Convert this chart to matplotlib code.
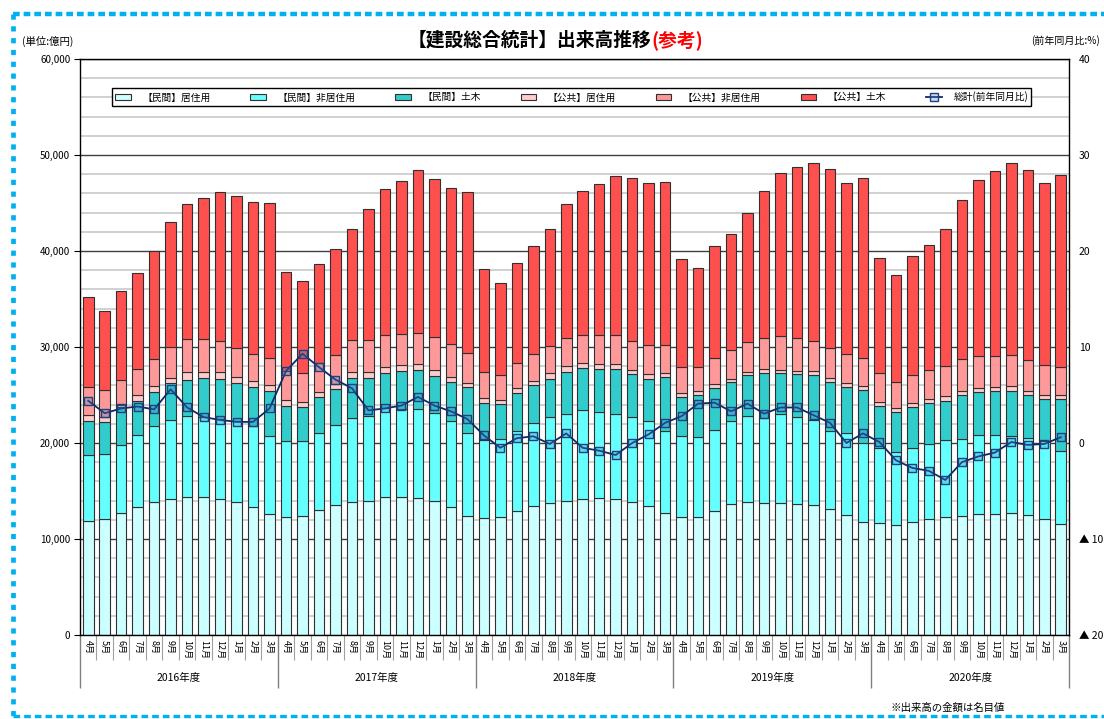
# 建設総合統計 出来高推移（参考） の再現
import matplotlib
matplotlib.use("Agg")
import matplotlib.pyplot as plt
import matplotlib.transforms as mtransforms
from matplotlib.lines import Line2D
import numpy as np

plt.rcParams["font.family"] = ["Noto Sans CJK JP", "DejaVu Sans"]

# 2016年4月〜2021年3月（月次、単位: 億円）
months = ["4月", "5月", "6月", "7月", "8月", "9月", "10月", "11月", "12月", "1月", "2月", "3月"] * 5
years = ["2016年度", "2017年度", "2018年度", "2019年度", "2020年度"]

min_kyoju = [11900, 12050, 12700, 13300, 13900, 14200, 14400, 14350, 14200, 13900, 13300, 12600,
             12300, 12400, 13000, 13500, 13900, 14000, 14350, 14400, 14300, 14000, 13300, 12400,
             12200, 12300, 12900, 13400, 13800, 14000, 14200, 14300, 14150, 13900, 13400, 12700,
             12300, 12300, 12950, 13600, 13900, 13750, 13800, 13600, 13500, 13100, 12500, 11800,
             11700, 11500, 11800, 12050, 12250, 12400, 12600, 12650, 12700, 12500, 12100, 11600]
min_hikyoju = [6900, 6850, 7100, 7500, 7900, 8200, 8450, 8350, 8300, 8400, 8500, 8100,
               7900, 7800, 8000, 8400, 8700, 8850, 9250, 9100, 9200, 9100, 9000, 8600,
               8100, 8100, 8300, 8650, 8900, 9000, 9200, 8900, 8850, 8850, 8900, 8600,
               8400, 8300, 8400, 8700, 8900, 8850, 9200, 9100, 8900, 8100, 8500, 8200,
               7800, 7600, 7700, 7850, 8050, 8050, 8200, 8150, 8050, 8000, 8100, 7600]
min_doboku = [3500, 3300, 3900, 3600, 3500, 3800, 3750, 4100, 4200, 3950, 4000, 4700,
              3700, 3500, 3800, 3700, 4200, 3950, 3700, 4000, 4100, 3900, 4100, 4800,
              3900, 3700, 4000, 3950, 4000, 4400, 4400, 4500, 4700, 4450, 4400, 5600,
              4100, 4400, 4350, 4100, 4250, 4700, 4300, 4450, 4650, 5200, 4800, 5500,
              4400, 4100, 4200, 4250, 4100, 4550, 4500, 4600, 4650, 4450, 4400, 5400]
ko_kyoju = [600, 500, 300, 600, 600, 600, 800, 600, 700, 650, 700, 600,
            600, 600, 500, 500, 600, 600, 600, 600, 600, 600, 500, 500,
            500, 400, 500, 500, 600, 600, 500, 500, 500, 400, 500, 400,
            400, 400, 400, 300, 350, 400, 300, 350, 450, 400, 400, 400,
            400, 400, 500, 450, 500, 400, 400, 400, 500, 450, 400, 400]
ko_hikyoju = [2900, 2800, 2600, 2700, 2900, 3200, 3400, 3400, 3200, 3000, 2800, 2900,
              3000, 3000, 3000, 3100, 3300, 3300, 3350, 3300, 3300, 3400, 3400, 3100,
              2700, 2600, 2600, 2800, 2800, 2900, 2950, 3050, 3000, 3000, 3000, 2900,
              2750, 2550, 2800, 3000, 3100, 3200, 3500, 3400, 3100, 3100, 3100, 3000,
              3000, 2800, 2900, 3000, 3100, 3300, 3400, 3300, 3300, 3200, 3100, 2900]
ko_doboku = [9400, 8200, 9200, 10000, 11200, 13050, 14100, 14750, 15550, 15800, 15800, 16100,
             10300, 9600, 10300, 11000, 11600, 13700, 15250, 15900, 16900, 16500, 16300, 16700,
             10700, 9600, 10500, 11200, 12150, 14000, 15050, 15750, 16600, 17000, 16850, 16950,
             11250, 10250, 11600, 12100, 13500, 15400, 17000, 17850, 18600, 18600, 17800, 18700,
             12000, 11100, 12350, 13000, 14300, 16650, 18250, 19200, 20000, 19800, 18950, 20000]
# 総計（前年同月比, %）
yoy = [4.4, 3.1, 3.6, 3.8, 3.5, 5.6, 3.7, 2.7, 2.4, 2.2, 2.2, 3.6,
       7.5, 9.3, 7.9, 6.6, 5.7, 3.4, 3.6, 3.9, 4.8, 3.9, 3.3, 2.5,
       0.8, -0.5, 0.5, 0.7, -0.1, 1.0, -0.5, -0.8, -1.25, 0.0, 0.9, 2.1,
       2.8, 4.1, 4.2, 3.3, 4.1, 3.05, 3.7, 3.7, 2.9, 2.1, 0.0, 1.0,
       0.1, -1.8, -2.6, -2.9, -3.85, -2.0, -1.4, -1.0, 0.1, -0.2, -0.1, 0.6]

series = [min_kyoju, min_hikyoju, min_doboku, ko_kyoju, ko_hikyoju, ko_doboku]
names = ["【民間】居住用", "【民間】非居住用", "【民間】土木", "【公共】居住用", "【公共】非居住用", "【公共】土木"]
colors = ["#CCFFFF", "#66FFFF", "#33CCCC", "#FFCCCC", "#FF9999", "#FF5050"]

fig = plt.figure(figsize=(11.04, 7.19), dpi=100)
ax = fig.add_axes([80 / 1104, 84 / 719, 989 / 1104, 576 / 719])

x = np.arange(len(months))
bottom = np.zeros(len(months))
handles = []
for vals, col, name in zip(series, colors, names):
    b = ax.bar(x, vals, 0.64, bottom=bottom, color=col, edgecolor="#303030",
               linewidth=0.8, label=name, zorder=2)
    handles.append(b)
    bottom += np.array(vals)

ax.set_xlim(-0.5, len(months) - 0.5)
ax.set_ylim(0, 60000)
ax.set_yticks(np.arange(0, 60001, 10000))
ax.set_yticklabels([f"{v:,}" for v in range(0, 60001, 10000)])
ax.set_yticks(np.arange(0, 60001, 2000), minor=True)
ax.grid(axis="y", which="major", color="#404040", lw=1.0)
ax.grid(axis="y", which="minor", color="#C8C8C8", lw=1.2)
ax.set_axisbelow(True)
ax.tick_params(axis="y", which="minor", length=0)
ax.tick_params(axis="y", which="major", length=4, labelsize=7, pad=3)

# x軸: 月の区切り（短）と年度の区切り（長）
ax.set_xticks(np.arange(-0.5, len(months), 12))
ax.set_xticks(np.arange(-0.5, len(months), 1), minor=True)
ax.tick_params(axis="x", which="major", length=38, color="#808080", width=1, labelbottom=False)
ax.tick_params(axis="x", which="minor", length=18, color="#A0A0A0", width=0.8, labelbottom=False)

trans = mtransforms.blended_transform_factory(ax.transData, ax.transAxes)
for i, m in enumerate(months):
    ax.text(i, -0.008, m, transform=trans, rotation=270, ha="center", va="top", fontsize=6.5)
for k, yl in enumerate(years):
    ax.text(12 * k + 5.5, -0.075, yl, transform=trans, ha="center", va="center", fontsize=7.5)

for s in ax.spines.values():
    s.set_color("black")
    s.set_linewidth(1.0)

# 右軸: 前年同月比
ax2 = ax.twinx()
ax2.set_ylim(-20, 40)
ticks2 = np.arange(-20, 41, 10)
ax2.set_yticks(ticks2)
ax2.set_yticklabels([f"▲ {abs(t)}" if t < 0 else f"{t}" for t in ticks2])
ax2.tick_params(axis="y", length=0, labelsize=7.5, pad=7)
for s in ax2.spines.values():
    s.set_visible(False)
ln, = ax2.plot(x, yoy, color="#0F2A6B", lw=1.3, marker="s", markersize=6,
               markerfacecolor=(0.25, 0.55, 0.75, 0.3), markeredgecolor="#1F3F80",
               markeredgewidth=1.0, label="総計(前年同月比)", zorder=5)
handles.append(ln)

leg = ax2.legend(handles, names + ["総計(前年同月比)"], ncol=7, loc="center",
                 bbox_to_anchor=(0.032, 0.918, 0.93, 0.032), mode="expand",
                 frameon=True, fancybox=False, edgecolor="black", framealpha=1,
                 fontsize=7, handlelength=1.6, handleheight=0.6, borderaxespad=0,
                 borderpad=0.35, handletextpad=1.2)
leg.get_frame().set_linewidth(1.0)

# 見出し
fig.text(651 / 1104, 1 - 40 / 719, "【建設総合統計】出来高推移", ha="right", va="center",
         fontsize=13.5, fontweight="bold", color="black")
fig.text(651 / 1104, 1 - 40 / 719, "(参考)", ha="left", va="center",
         fontsize=13.5, fontweight="bold", color="#FF0000")
fig.text(22 / 1104, 1 - 41 / 719, "(単位:億円)", ha="left", va="center", fontsize=7.5)
fig.text(1100 / 1104, 1 - 41 / 719, "(前年同月比:%)", ha="right", va="center", fontsize=7.2)
fig.text(890 / 1104, 1 - 708 / 719, "※出来高の金額は名目値", ha="left", va="center", fontsize=7.5)

# 外枠（水色の破線）
bx0, by0, by1 = 13 / 1104, 1 - 716 / 719, 1 - 14 / 719
fig.add_artist(Line2D([bx0, 1.01], [by1, by1], transform=fig.transFigure,
                      color="#00B0F0", lw=3.2, linestyle=(0, (1.5, 0.9))))
fig.add_artist(Line2D([bx0, bx0], [by1, by0], transform=fig.transFigure,
                      color="#00B0F0", lw=3.4, linestyle=(0, (1.1, 1.4))))
fig.add_artist(Line2D([bx0, 1.01], [by0, by0], transform=fig.transFigure,
                      color="#00B0F0", lw=2.4, linestyle=(0, (2.0, 1.2))))

fig.savefig("out.png", dpi=100)
